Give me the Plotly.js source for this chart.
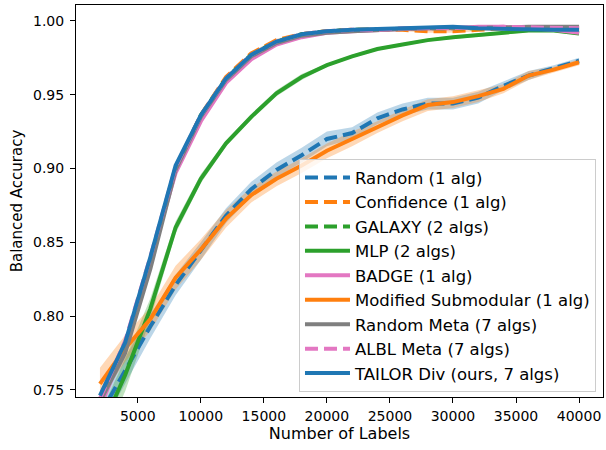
<!DOCTYPE html>
<html>
<head>
<meta charset="utf-8">
<script src="https://cdn.plot.ly/plotly-3.0.1.min.js"></script>
<style>html,body{margin:0;padding:0;background:#fff;}#chart{width:606px;height:450px;}</style>
</head>
<body>
<div id="chart"></div>
<script>
// Number of labels (x values)
const labels = [2000, 4000, 6000, 8000, 10000, 12000, 14000, 16000, 18000, 20000,
                22000, 24000, 26000, 28000, 30000, 32000, 34000, 36000, 38000, 40000];

// Balanced accuracy per method (mean) and band half-width
const randomAcc = [0.733, 0.763, 0.793, 0.821, 0.844, 0.868, 0.886, 0.899, 0.909, 0.920,
                   0.924, 0.934, 0.940, 0.944, 0.944, 0.948, 0.956, 0.963, 0.968, 0.973];
const randomSpread = [0.010, 0.009, 0.008, 0.007, 0.006, 0.005, 0.005, 0.005, 0.005, 0.005,
                      0.004, 0.004, 0.004, 0.004, 0.004, 0.004, 0.003, 0.003, 0.002, 0.002];

const confidenceAcc = [0.743, 0.780, 0.838, 0.900, 0.936, 0.962, 0.978, 0.987, 0.991, 0.993,
                       0.994, 0.994, 0.994, 0.993, 0.993, 0.994, 0.995, 0.995, 0.995, 0.995];
const confidenceSpread = [0.004, 0.003, 0.003, 0.002, 0.002, 0.001, 0.001, 0.001, 0.001, 0.001,
                          0.001, 0.001, 0.001, 0.001, 0.001, 0.001, 0.001, 0.001, 0.001, 0.001];

const galaxyAcc = [0.741, 0.779, 0.837, 0.900, 0.936, 0.961, 0.977, 0.986, 0.991, 0.993,
                   0.994, 0.9945, 0.995, 0.995, 0.995, 0.995, 0.995, 0.9955, 0.9955, 0.9955];
const galaxySpread = [0.004, 0.003, 0.003, 0.002, 0.002, 0.001, 0.001, 0.001, 0.001, 0.001,
                      0.001, 0.001, 0.001, 0.001, 0.001, 0.001, 0.001, 0.001, 0.001, 0.001];

const mlpAcc = [0.722, 0.760, 0.805, 0.860, 0.893, 0.917, 0.935, 0.951, 0.962, 0.970,
                0.976, 0.981, 0.984, 0.987, 0.989, 0.9905, 0.992, 0.9935, 0.9935, 0.9915];
const mlpSpread = [0.012, 0.011, 0.007, 0.004, 0.003, 0.002, 0.002, 0.002, 0.002, 0.001,
                   0.001, 0.001, 0.001, 0.001, 0.001, 0.001, 0.001, 0.001, 0.001, 0.001];

const badgeAcc = [0.738, 0.780, 0.838, 0.897, 0.932, 0.958, 0.974, 0.984, 0.989, 0.992,
                  0.993, 0.994, 0.9945, 0.995, 0.995, 0.996, 0.996, 0.995, 0.994, 0.992];
const badgeSpread = [0.004, 0.003, 0.003, 0.002, 0.002, 0.001, 0.001, 0.001, 0.001, 0.001,
                     0.001, 0.001, 0.001, 0.001, 0.001, 0.001, 0.001, 0.001, 0.001, 0.001];

const subModAcc = [0.754, 0.778, 0.798, 0.826, 0.845, 0.866, 0.882, 0.893, 0.902, 0.912,
                   0.920, 0.928, 0.936, 0.943, 0.945, 0.949, 0.954, 0.963, 0.967, 0.972];
const subModSpread = [0.011, 0.009, 0.008, 0.008, 0.007, 0.006, 0.005, 0.005, 0.005, 0.005,
                      0.005, 0.004, 0.004, 0.004, 0.004, 0.004, 0.003, 0.003, 0.002, 0.002];

const randomMetaAcc = [0.742, 0.775, 0.832, 0.899, 0.935, 0.960, 0.976, 0.985, 0.990, 0.992,
                       0.993, 0.994, 0.9945, 0.995, 0.995, 0.995, 0.9955, 0.996, 0.996, 0.996];
const randomMetaSpread = [0.004, 0.003, 0.003, 0.002, 0.002, 0.001, 0.001, 0.001, 0.001, 0.001,
                          0.001, 0.001, 0.001, 0.001, 0.001, 0.001, 0.001, 0.001, 0.001, 0.001];

const albLMetaAcc = [0.744, 0.783, 0.840, 0.901, 0.936, 0.961, 0.977, 0.986, 0.991, 0.993,
                     0.994, 0.994, 0.995, 0.995, 0.995, 0.9955, 0.996, 0.9955, 0.995, 0.995];
const albLMetaSpread = [0.004, 0.003, 0.003, 0.002, 0.002, 0.001, 0.001, 0.001, 0.001, 0.001,
                        0.001, 0.001, 0.001, 0.001, 0.001, 0.001, 0.001, 0.001, 0.001, 0.001];

const tailorAcc = [0.746, 0.782, 0.840, 0.902, 0.936, 0.961, 0.977, 0.986, 0.991, 0.993,
                   0.994, 0.9945, 0.995, 0.9955, 0.996, 0.995, 0.9945, 0.994, 0.994, 0.994];
const tailorSpread = [0.003, 0.003, 0.002, 0.002, 0.002, 0.001, 0.001, 0.001, 0.001, 0.001,
                      0.001, 0.001, 0.001, 0.001, 0.001, 0.001, 0.001, 0.001, 0.001, 0.001];

const seriesNames = ["Random (1 alg)", "Confidence (1 alg)", "GALAXY (2 algs)", "MLP (2 algs)",
  "BADGE (1 alg)", "Modified Submodular (1 alg)", "Random Meta (7 algs)", "ALBL Meta (7 algs)",
  "TAILOR Div (ours, 7 algs)"];

const xTicks = [5000, 10000, 15000, 20000, 25000, 30000, 35000, 40000];
const yTicks = [0.75, 0.80, 0.85, 0.90, 0.95, 1.00];

const blue = "#1f77b4", orange = "#ff7f0e", green = "#2ca02c", pink = "#e377c2", gray = "#7f7f7f";
const DASH = "13px,6px";

const series = [
  {name: seriesNames[0], y: randomAcc, s: randomSpread, color: blue, rgb: "31,119,180", dash: DASH},
  {name: seriesNames[1], y: confidenceAcc, s: confidenceSpread, color: orange, rgb: "255,127,14", dash: DASH},
  {name: seriesNames[2], y: galaxyAcc, s: galaxySpread, color: green, rgb: "44,160,44", dash: DASH},
  {name: seriesNames[3], y: mlpAcc, s: mlpSpread, color: green, rgb: "44,160,44", dash: "solid"},
  {name: seriesNames[4], y: badgeAcc, s: badgeSpread, color: pink, rgb: "227,119,194", dash: "solid"},
  {name: seriesNames[5], y: subModAcc, s: subModSpread, color: orange, rgb: "255,127,14", dash: "solid"},
  {name: seriesNames[6], y: randomMetaAcc, s: randomMetaSpread, color: gray, rgb: "127,127,127", dash: "solid"},
  {name: seriesNames[7], y: albLMetaAcc, s: albLMetaSpread, color: pink, rgb: "227,119,194", dash: DASH},
  {name: seriesNames[8], y: tailorAcc, s: tailorSpread, color: blue, rgb: "31,119,180", dash: "solid"}
];

const traces = [];
series.forEach(sr => {
  const upper = sr.y.map((v, i) => v + sr.s[i]);
  const lower = sr.y.map((v, i) => v - sr.s[i]);
  traces.push({
    x: labels.concat(labels.slice().reverse()),
    y: upper.concat(lower.slice().reverse()),
    type: "scatter", mode: "lines", fill: "toself",
    fillcolor: "rgba(" + sr.rgb + ",0.3)", line: {width: 0, color: "rgba(0,0,0,0)"},
    hoverinfo: "skip", showlegend: false
  });
});
series.forEach(sr => {
  traces.push({
    x: labels, y: sr.y, type: "scatter", mode: "lines", name: sr.name,
    line: {color: sr.color, width: 4, dash: sr.dash}
  });
});

const font = "DejaVu Sans, sans-serif";
const layout = {
  width: 606, height: 450,
  margin: {l: 76, r: 3, t: 5, b: 53},
  paper_bgcolor: "#ffffff", plot_bgcolor: "#ffffff",
  font: {family: font, color: "#000000", size: 14},
  showlegend: true,
  xaxis: {
    range: [100, 41900], tickvals: xTicks, ticktext: xTicks.map(String),
    ticks: "outside", ticklen: 5, tickwidth: 1, tickcolor: "#000",
    showline: true, linecolor: "#000", linewidth: 1, mirror: true,
    showgrid: false, zeroline: false, tickfont: {size: 14}, ticklabelstandoff: 1,
    title: {text: "Number of Labels", font: {size: 16}, standoff: 2}
  },
  yaxis: {
    range: [0.7451, 1.0108], tickvals: yTicks, ticktext: yTicks.map(v => v.toFixed(2)),
    ticks: "outside", ticklen: 5, tickwidth: 1, tickcolor: "#000",
    showline: true, linecolor: "#000", linewidth: 1, mirror: true,
    showgrid: false, zeroline: false, tickfont: {size: 14}, ticklabelstandoff: 3,
    title: {text: "Balanced Accuracy", font: {size: 15}, standoff: 6}
  },
  legend: {
    x: 0.9867, xanchor: "right", y: 0.012, yanchor: "bottom",
    bgcolor: "rgba(255,255,255,0.8)", bordercolor: "#cccccc", borderwidth: 1,
    font: {size: 16.5}, itemwidth: 45, tracegroupgap: 0
  }
};

Plotly.newPlot("chart", traces, layout, {staticPlot: true, displayModeBar: false});
</script>
</body>
</html>
